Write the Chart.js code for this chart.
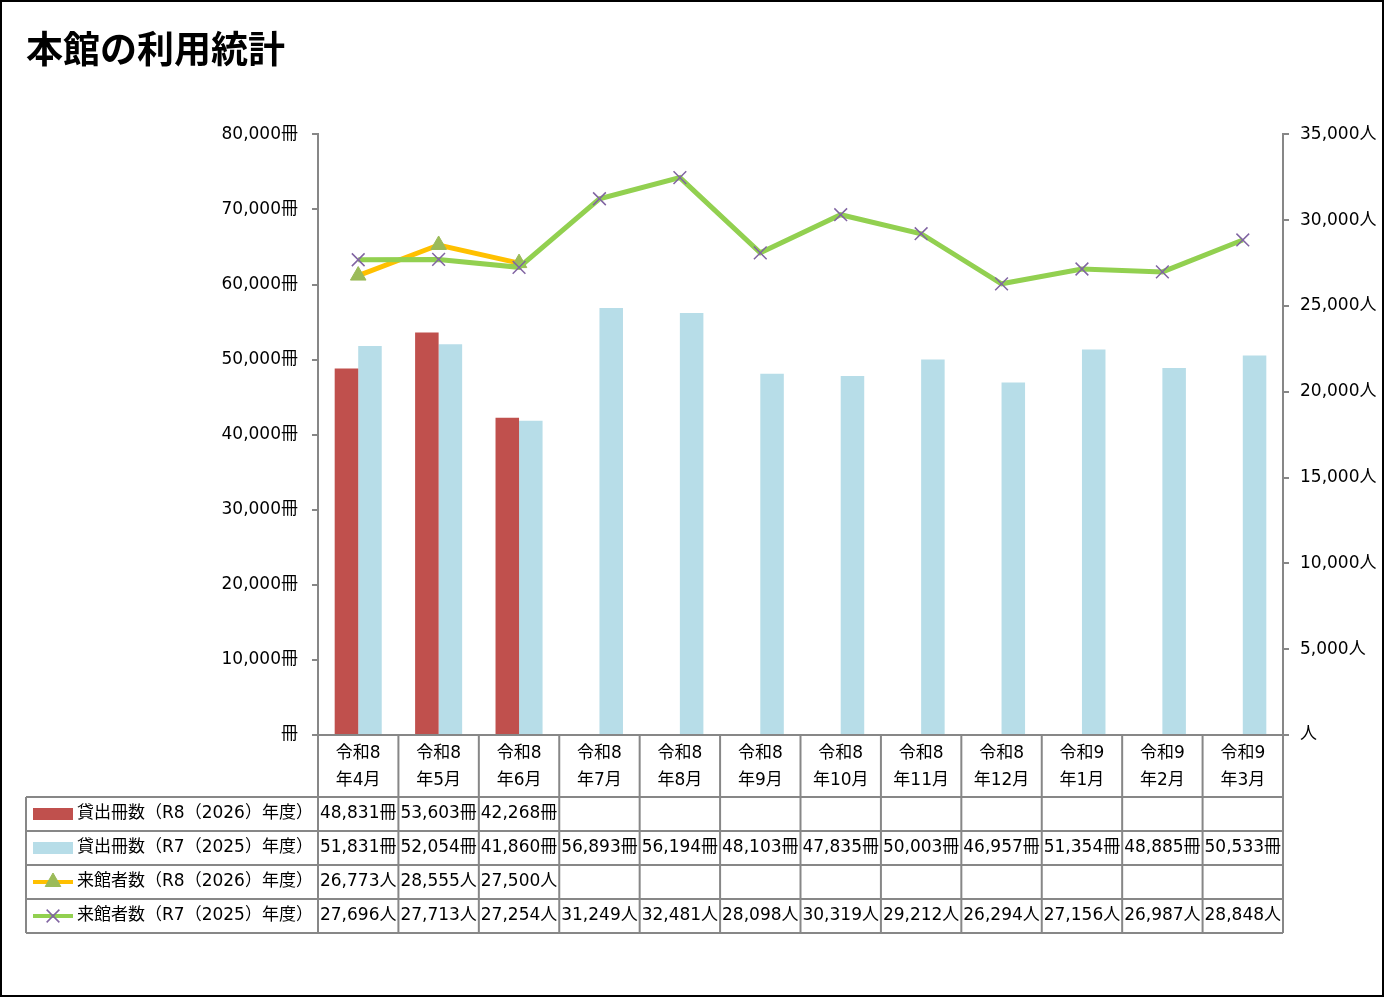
<!DOCTYPE html>
<html>
<head>
<meta charset="utf-8">
<script src="https://cdn.jsdelivr.net/npm/chart.js@4"></script>
<style>
  body { margin: 0; background: #fff; }
</style>
</head>
<body>
<canvas id="usageChart" width="1385" height="998"></canvas>
<script>
const months = [
    ['令和8', '年4月'], ['令和8', '年5月'], ['令和8', '年6月'], ['令和8', '年7月'],
    ['令和8', '年8月'], ['令和8', '年9月'], ['令和8', '年10月'], ['令和8', '年11月'],
    ['令和8', '年12月'], ['令和9', '年1月'], ['令和9', '年2月'], ['令和9', '年3月']
];
const seriesNames = [
    '貸出冊数（R8（2026）年度）',
    '貸出冊数（R7（2025）年度）',
    '来館者数（R8（2026）年度）',
    '来館者数（R7（2025）年度）'
];
const lendR8 = [48831, 53603, 42268, null, null, null, null, null, null, null, null, null];
const lendR7 = [51831, 52054, 41860, 56893, 56194, 48103, 47835, 50003, 46957, 51354, 48885, 50533];
const visitR8 = [26773, 28555, 27500, null, null, null, null, null, null, null, null, null];
const visitR7 = [27696, 27713, 27254, 31249, 32481, 28098, 30319, 29212, 26294, 27156, 26987, 28848];
const bookUnit = '冊';
const personUnit = '人';

const FONT = '"DejaVu Sans", "Noto Sans CJK JP", sans-serif';
const GREY = '#878787';

function withUnit(v, unit) {
    if (v === null || v === undefined) return '';
    if (v === 0) return unit;
    return v.toLocaleString('en-US') + unit;
}

// white background and black frame
const framePlugin = {
    id: 'frame',
    beforeDraw(chart) {
        const ctx = chart.ctx;
        ctx.save();
        ctx.fillStyle = '#fff';
        ctx.fillRect(0, 0, chart.width, chart.height);
        ctx.restore();
    },
    afterDraw(chart) {
        const ctx = chart.ctx;
        ctx.save();
        ctx.strokeStyle = '#000';
        ctx.lineWidth = 2;
        ctx.strokeRect(1, 1, chart.width - 3, chart.height - 3);
        ctx.restore();
    }
};

// data table under the chart (Excel style)
const tablePlugin = {
    id: 'dataTable',
    afterDraw(chart) {
        const ctx = chart.ctx;
        const xs = chart.scales.x;
        const area = chart.chartArea;
        const cw = xs.getPixelForValue(1) - xs.getPixelForValue(0);
        const left = area.left, right = area.right;
        const top = area.bottom;
        const headH = 62, rowH = 34;
        const tableLeft = 26;
        const rowsTop = top + headH;
        const bottom = rowsTop + rowH * 4;

        ctx.save();
        ctx.strokeStyle = GREY;
        ctx.lineWidth = 2;
        ctx.beginPath();
        ctx.moveTo(left, top); ctx.lineTo(right, top);
        for (let r = 0; r <= 4; r++) {
            ctx.moveTo(tableLeft, rowsTop + r * rowH);
            ctx.lineTo(right, rowsTop + r * rowH);
        }
        ctx.moveTo(tableLeft, rowsTop); ctx.lineTo(tableLeft, bottom);
        for (let i = 0; i <= months.length; i++) {
            const x = xs.getPixelForValue(i) - cw / 2;
            ctx.moveTo(x, top); ctx.lineTo(x, bottom);
        }
        ctx.stroke();

        ctx.fillStyle = '#000';
        ctx.font = '17px ' + FONT;
        ctx.textAlign = 'center';
        ctx.textBaseline = 'middle';
        months.forEach((m, i) => {
            const x = xs.getPixelForValue(i);
            ctx.fillText(m[0], x, top + 19);
            ctx.fillText(m[1], x, top + 46);
        });

        const rows = [
            { data: lendR8, unit: bookUnit },
            { data: lendR7, unit: bookUnit },
            { data: visitR8, unit: personUnit },
            { data: visitR7, unit: personUnit }
        ];
        rows.forEach((row, r) => {
            const y = rowsTop + r * rowH + rowH / 2;
            row.data.forEach((v, i) => {
                ctx.fillText(withUnit(v, row.unit), xs.getPixelForValue(i), y);
            });
        });

        // legend keys + names
        const datasets = chart.data.datasets;
        seriesNames.forEach((name, r) => {
            const y = rowsTop + r * rowH + rowH / 2;
            const ds = datasets[r];
            if (ds.type === 'line') {
                ctx.strokeStyle = ds.borderColor;
                ctx.lineWidth = 4;
                ctx.beginPath();
                ctx.moveTo(33, y); ctx.lineTo(73, y);
                ctx.stroke();
                ctx.fillStyle = ds.pointBackgroundColor;
                ctx.strokeStyle = ds.pointBorderColor;
                ctx.lineWidth = ds.pointBorderWidth;
                Chart.helpers.drawPoint(ctx, {
                    pointStyle: ds.pointStyle, radius: ds.pointRadius,
                    rotation: 0, borderWidth: ds.pointBorderWidth
                }, 53, y);
            } else {
                ctx.fillStyle = ds.backgroundColor;
                ctx.fillRect(33, y - 6, 40, 12);
            }
            ctx.fillStyle = '#000';
            ctx.textAlign = 'left';
            ctx.fillText(name, 77, y);
        });
        ctx.restore();
    }
};

const ctx = document.getElementById('usageChart').getContext('2d');

new Chart(ctx, {
    data: {
        labels: months,
        datasets: [
            {
                type: 'bar', label: seriesNames[0], data: lendR8, yAxisID: 'y',
                backgroundColor: '#C0504D', categoryPercentage: 0.585, barPercentage: 1, order: 3
            },
            {
                type: 'bar', label: seriesNames[1], data: lendR7, yAxisID: 'y',
                backgroundColor: '#B7DDE8', categoryPercentage: 0.585, barPercentage: 1, order: 3
            },
            {
                type: 'line', label: seriesNames[2], data: visitR8, yAxisID: 'y1',
                borderColor: '#FFC000', borderWidth: 5,
                pointStyle: 'triangle', pointRadius: 9, pointBorderWidth: 1,
                pointBackgroundColor: '#9BBB59', pointBorderColor: '#9BBB59', order: 2
            },
            {
                type: 'line', label: seriesNames[3], data: visitR7, yAxisID: 'y1',
                borderColor: '#92D050', borderWidth: 5,
                pointStyle: 'crossRot', pointRadius: 9, pointBorderWidth: 1.5,
                pointBackgroundColor: '#8064A2', pointBorderColor: '#8064A2', order: 1
            }
        ]
    },
    options: {
        responsive: false,
        animation: false,
        devicePixelRatio: 1,
        layout: { padding: { left: 26, right: 0, top: 0, bottom: 263 } },
        plugins: {
            legend: { display: false },
            tooltip: { enabled: false },
            title: {
                display: true,
                text: '本館の利用統計',
                align: 'start',
                color: '#000',
                font: { family: '"Noto Sans CJK JP", sans-serif', size: 37, weight: 'bold' },
                padding: { top: 27, bottom: 63 }
            }
        },
        scales: {
            x: { display: false, offset: true },
            y: {
                position: 'left',
                min: 0, max: 80000,
                ticks: {
                    stepSize: 10000, color: '#000', padding: 14,
                    font: { family: FONT, size: 17 },
                    callback: v => withUnit(v, bookUnit)
                },
                grid: { drawOnChartArea: false, tickLength: 6, color: GREY, lineWidth: 2 },
                border: { color: GREY, width: 2 },
                afterFit(s) { s.width = 292; }
            },
            y1: {
                position: 'right',
                min: 0, max: 35000,
                ticks: {
                    stepSize: 5000, color: '#000', padding: 11,
                    font: { family: FONT, size: 17 },
                    callback: v => withUnit(v, personUnit)
                },
                grid: { drawOnChartArea: false, tickLength: 6, color: GREY, lineWidth: 2 },
                border: { color: GREY, width: 2 },
                afterFit(s) { s.width = 102; }
            }
        }
    },
    plugins: [framePlugin, tablePlugin]
});
</script>
</body>
</html>
